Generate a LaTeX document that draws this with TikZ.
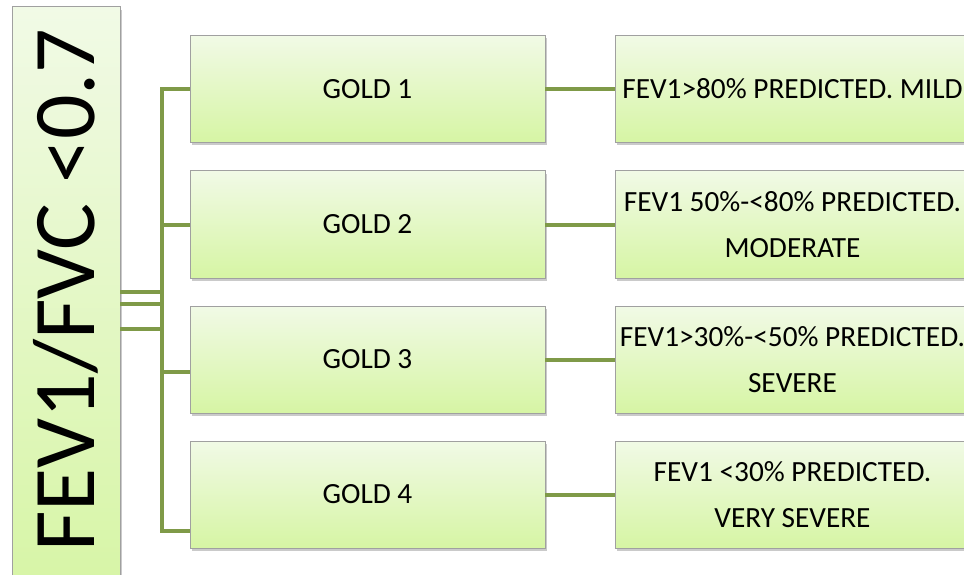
\documentclass[tikz,border=0pt]{standalone}
\usepackage{fontspec}
\setmainfont{Carlito}
\usetikzlibrary{shadows,calc}
\definecolor{conn}{HTML}{7F9A48}
\definecolor{topg}{HTML}{F1FAE6}
\definecolor{botg}{HTML}{D6F5A4}
\definecolor{bord}{HTML}{A0A0A0}
\tikzset{
  box/.style={draw=bord, line width=1pt, top color=topg, bottom color=botg,
    minimum width=355pt, minimum height=107pt, inner sep=0pt, outer sep=0pt,
    drop shadow={shadow xshift=2pt, shadow yshift=-3pt, opacity=0.35, fill=black!60},
    font=\fontsize{29.3}{46}\selectfont, align=center},
  link/.style={draw=conn, line width=4pt}
}
\begin{document}
\begin{tikzpicture}[x=1pt,y=-1pt]
\useasboundingbox (0,0) rectangle (964,575);
\begin{scope}
\clip (0,0) rectangle (964,575);
% left box
\node[box, minimum width=108pt, minimum height=600pt] (L) at (66,307) {};
\node[rotate=90, inner sep=0pt, font=\fontsize{88}{88}\selectfont] (T) at (66,290) {FEV1/FVC <0.7};
% middle boxes
\node[box] (g1) at (367.5,89) {GOLD 1};
\node[box] (g2) at (367.5,224.5) {GOLD 2};
\node[box] (g3) at (367.5,359.5) {GOLD 3};
\node[box] (g4) at (367.5,494.5) {GOLD 4};
% right boxes
\node[box] (r1) at (792.5,89) {FEV1>80\% PREDICTED. MILD};
\node[box] (r2) at (792.5,224.5) {FEV1 50\%-<80\% PREDICTED.\\MODERATE};
\node[box] (r3) at (792.5,359.5) {FEV1>30\%-<50\% PREDICTED.\\SEVERE};
\node[box] (r4) at (792.5,494.5) {FEV1 <30\% PREDICTED.\\VERY SEVERE};
% connector coordinates
\coordinate (bus) at (161.5,0);
\coordinate (p1) at ($(L.east)+(0,-15)$);
\coordinate (p2) at ($(L.east)+(0,-3)$);
\coordinate (p3) at ($(L.east)+(0,-3)$);
\coordinate (p4) at ($(L.east)+(0,22)$);
\coordinate (e1) at (g1.west);
\coordinate (e2) at (g2.west);
\coordinate (e3) at ($(g3.west)+(0,12.5)$);
\coordinate (e4) at ($(g4.west)+(0,36.5)$);
\draw[link] (p1) -| (bus |- e1) -- (e1);
\draw[link] (p2) -| (bus |- e2) -- (e2);
\draw[link] (p3) -| (bus |- e3) -- (e3);
\draw[link] (p4) -| (bus |- e4) -- (e4);
\draw[link] (g1.east) -- (r1.west);
\draw[link] (g2.east) -- (r2.west);
\draw[link] (g3.east) -- (r3.west);
\draw[link] (g4.east) -- (r4.west);
\end{scope}
\end{tikzpicture}
\end{document}
